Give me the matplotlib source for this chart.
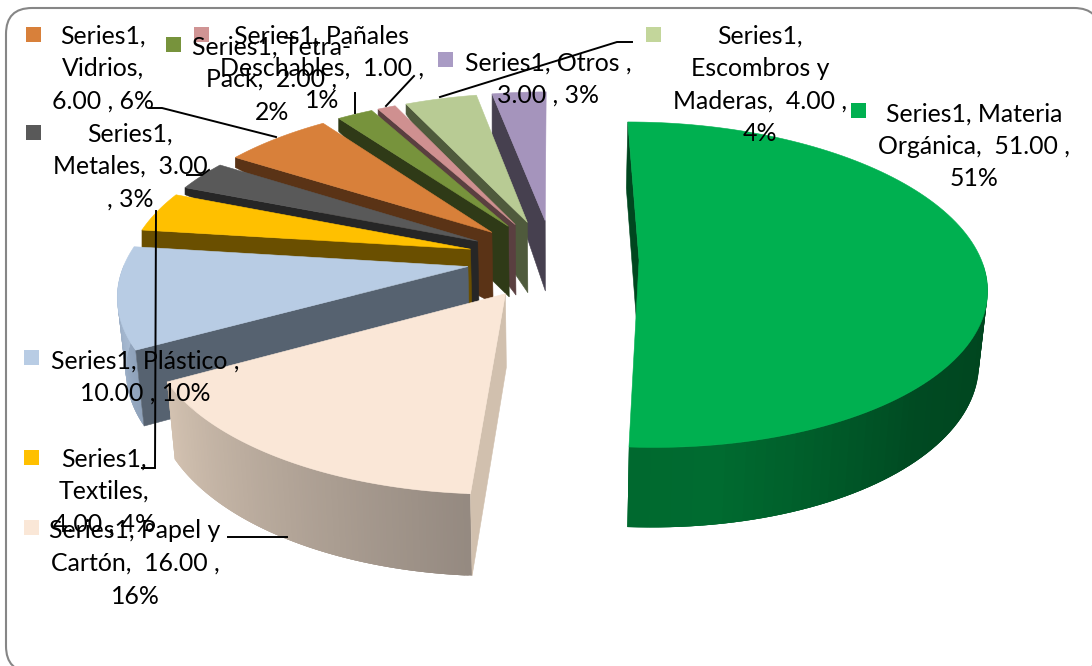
import numpy as np
import matplotlib
matplotlib.use('Agg')
import matplotlib.pyplot as plt
from matplotlib.colors import to_rgb
from matplotlib.patches import FancyBboxPatch, Polygon, Rectangle

categories = ['Materia Orgánica', 'Papel y Cartón', 'Plástico', 'Textiles', 'Metales',
              'Vidrios', 'Tetra-Pack', 'Pañales Deschables', 'Escombros y Maderas', 'Otros']
values = [51, 16, 10, 4, 3, 6, 2, 1, 4, 3]
series_name = 'Series1'

# line breaks of the data labels, {v} and {p} get filled in
label_lines = [
    ['Series1, Materia', 'Orgánica,  {v} ,', '{p}'],
    ['Series1, Papel y', 'Cartón,  {v} ,', '{p}'],
    ['Series1, Plástico ,', '{v} , {p}'],
    ['Series1,', 'Textiles,', '{v} , {p}'],
    ['Series1,', 'Metales,  {v}', ', {p}'],
    ['Series1,', 'Vidrios,', '{v} , {p}'],
    ['Series1, Tetra-', 'Pack,  {v} ,', '{p}'],
    ['Series1, Pañales', 'Deschables,  {v} ,', '{p}'],
    ['Series1,', 'Escombros y', 'Maderas,  {v} ,', '{p}'],
    ['Series1, Otros ,', '{v} , {p}'],
]

top_colors = ['#00B050', '#FAE7D7', '#B8CCE4', '#FFC000', '#595959',
              '#D8803A', '#77933C', '#CF9090', '#B8CB94', '#A594BC']
cut_colors = ['#00471F', '#D1C0AE', '#566270', '#6A4F00', '#262626',
              '#5A3316', '#2F3A17', '#5A3F40', '#4F5A3C', '#46404F']
marker_colors = ['#00B050', '#FAE7D7', '#B8CCE4', '#FFC000', '#595959',
                 '#D8803A', '#77933C', '#D09494', '#C3D69B', '#A99BC4']
# colours along the outer wall: angle, colour
wall_stops = {
    0: [(90, '#00431D'), (135, '#004A22'), (170, '#006B30'), (184, '#00692F')],
    1: [(183, '#948980'), (241, '#D3C2B1')],
    2: [(241, '#8FA2BA'), (270, '#A9BCD4')],
}
# how far the cut face reaches down at the rim (back slices are squeezed)
cut_depth = [None, None, None, 18, 7, 10, 13, 6, 10, 41]

# label position (centre x, first line y), legend key position
label_pos = [(974, 114), (135, 531), (145, 361), (104, 459), (130, 134),
             (103, 36), (272, 47), (322, 36), (760, 36), (548, 63)]
key_pos = [(851, 103), (24, 520), (24, 350), (24, 450), (26, 125),
           (26, 27), (166, 37), (194, 27), (646, 27), (438, 52)]
leaders = [
    None,
    [(228, 537), (287, 537)],
    None,
    [(142, 468), (155, 468), (156, 211)],
    [(187, 175), (202, 175), (209, 170)],
    [(150, 108), (162, 108), (276, 137)],
    [(355, 93), (355, 113)],
    [(414, 76), (386, 106)],
    [(632, 42), (617, 42), (440, 97)],
    None,
]

# projection of the pie plane
cx, cy = 553, 259
radius = 342
explode = 86
squash = 0.464
persp = 0.15 / radius


def project(px, py):
    w = 1 + persp * py
    return cx + px / w, cy - squash * py / w


def lower(x, y):
    return cx + (x - cx) * 0.98, y + 72 + 0.043 * (y - 260)


def draw_poly(ax, pts, color, z):
    ax.add_patch(Polygon(pts, closed=True, facecolor=color, edgecolor=color, lw=0.4, zorder=z))


fig = plt.figure(figsize=(10.92, 6.66), dpi=100)
ax = fig.add_axes([0, 0, 1, 1])
ax.set_xlim(0, 1092)
ax.set_ylim(666, 0)
ax.axis('off')

# frame runs off the right and bottom edge of the picture
ax.add_patch(FancyBboxPatch((6, 8), 1094, 664, boxstyle='round,pad=0,rounding_size=26',
                            facecolor='white', edgecolor='#868686', lw=1.5, zorder=0))

total = sum(values)
edges = np.concatenate([[0], np.cumsum(values)]) / total * 360

# back slices first, the big green one last
order = list(range(len(values) - 1, 0, -1)) + [0]
z = 1
for i in order:
    t0, t1 = edges[i], edges[i + 1]
    mid = np.radians((t0 + t1) / 2)
    ex, ey = explode * np.sin(mid), explode * np.cos(mid)
    t = np.radians(np.linspace(t0, t1, 120))
    rim = [project(ex + radius * np.sin(a), ey + radius * np.cos(a)) for a in t]
    apex = project(ex, ey)

    # outer wall, only the part that faces us
    if i in wall_stops:
        angs = np.degrees(t)
        stops = wall_stops[i]
        xs = [s[0] for s in stops]
        rgb = np.array([to_rgb(s[1]) for s in stops])
        for k in range(len(rim) - 1):
            if not 90 <= angs[k] <= 270:
                continue
            col = [np.interp(angs[k], xs, rgb[:, c]) for c in range(3)]
            # each strip overlaps the next one so no seams show
            k2 = min(k + 3, len(rim) - 1)
            ax.add_patch(Polygon([rim[k], rim[k2], lower(*rim[k2]), lower(*rim[k])], closed=True,
                                 facecolor=col, edgecolor='none', zorder=z))
        z += 1

    # cut face at the start angle
    first = rim[0]
    if cut_depth[i] is None:
        first_low = lower(*first)
    else:
        first_low = (first[0], first[1] + cut_depth[i])
    draw_poly(ax, [apex, first, first_low, lower(*apex)], cut_colors[i], z)
    z += 1

    draw_poly(ax, [apex] + rim, top_colors[i], z)
    z += 1

for i in range(len(values)):
    if leaders[i] is not None:
        xs, ys = zip(*leaders[i])
        ax.plot(xs, ys, color='black', lw=1.4, zorder=50, solid_joinstyle='miter')

    kx, ky = key_pos[i]
    ax.add_patch(Rectangle((kx, ky), 15, 15, facecolor=marker_colors[i], edgecolor='none', zorder=60))

    v = '%.2f' % values[i]
    p = '%d%%' % round(values[i] / total * 100)
    lx, ly = label_pos[i]
    for n, line in enumerate(label_lines[i]):
        ax.text(lx, ly + n * 32.5, line.format(v=v, p=p), ha='center', va='center',
                fontsize=17.9, family='Lato', color='black', zorder=70)

fig.savefig('out.png', dpi=100)
